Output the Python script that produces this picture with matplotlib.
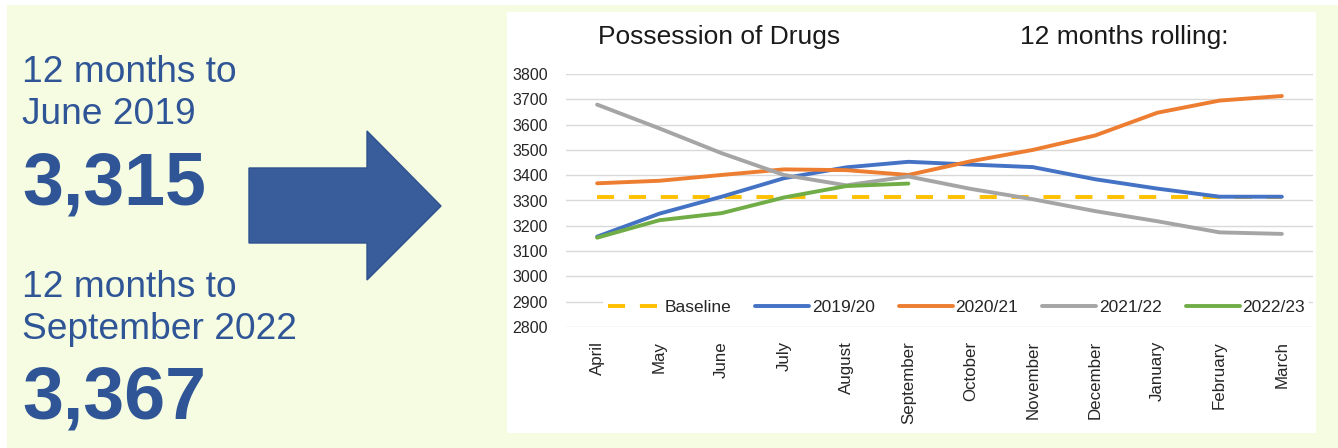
import matplotlib
matplotlib.use("Agg")
import matplotlib.pyplot as plt
from matplotlib.patches import Rectangle, Polygon

plt.rcParams['font.family'] = ['Liberation Sans', 'DejaVu Sans']

# ---- data ----
months = ["April", "May", "June", "July", "August", "September", "October",
          "November", "December", "January", "February", "March"]
baseline = [3315] * 12
fy_2019_20 = [3157, 3248, 3315, 3388, 3431, 3453, 3442, 3432, 3384, 3347, 3315, 3315]
fy_2020_21 = [3368, 3378, 3401, 3423, 3420, 3401, 3455, 3500, 3557, 3647, 3695, 3713]
fy_2021_22 = [3679, 3585, 3487, 3401, 3360, 3395, 3346, 3305, 3258, 3218, 3174, 3168]
fy_2022_23 = [3153, 3222, 3250, 3312, 3357, 3367]
series_labels = ["Baseline", "2019/20", "2020/21", "2021/22", "2022/23"]
yticks = list(range(2800, 3900, 100))

headline_old_lines = ["12 months to", "June 2019"]
headline_old_value = "3,315"
headline_new_lines = ["12 months to", "September 2022"]
headline_new_value = "3,367"
chart_title = "Possession of Drugs"
chart_subtitle = "12 months rolling:"

W, H = 1338, 448
fig = plt.figure(figsize=(W / 100, H / 100), dpi=100, facecolor="white")

# background layer in pixel coords
bg = fig.add_axes([0, 0, 1, 1], zorder=0)
bg.set_xlim(0, W)
bg.set_ylim(H, 0)
bg.axis("off")
bg.add_patch(Rectangle((7, 5), W - 7, H - 5, facecolor="#F5FCE1", edgecolor="none"))
panel = Rectangle((507, 12), 1316 - 507, 433 - 12, facecolor="white", edgecolor="none")
bg.add_patch(panel)

text_col = "#2F5597"
for i, line in enumerate(headline_old_lines):
    bg.text(22, 82 + 42 * i, line, fontsize=26.7, color=text_col, va="baseline", ha="left")
bg.text(22, 204, headline_old_value, fontsize=53, color=text_col, fontweight="bold",
        va="baseline", ha="left")
for i, line in enumerate(headline_new_lines):
    bg.text(22, 297 + 42 * i, line, fontsize=26.7, color=text_col, va="baseline", ha="left")
bg.text(22, 418, headline_new_value, fontsize=53, color=text_col, fontweight="bold",
        va="baseline", ha="left")

arrow = Polygon([(249, 168), (367, 168), (367, 131), (441, 206), (367, 280),
                 (367, 243), (249, 243)], closed=True, facecolor="#385D9A",
                edgecolor="#2F528F", linewidth=1)
bg.add_patch(arrow)

bg.text(598, 44, chart_title, fontsize=19, color="#1a1a1a", va="baseline", ha="left")
bg.text(1020, 44, chart_subtitle, fontsize=19, color="#1a1a1a", va="baseline", ha="left")

# ---- main chart ----
left, right, top, bottom = 566, 1313, 74, 327
ax = fig.add_axes([left / W, 1 - bottom / H, (right - left) / W, (bottom - top) / H], zorder=1)
ax.patch.set_alpha(0)
x = list(range(len(months)))

lw = 2.8
ax.plot(x, baseline, color="#FFC000", lw=lw, ls=(0, (4.4, 3.8)), label=series_labels[0], zorder=2)
ax.plot(x, fy_2019_20, color="#4472C4", lw=lw, label=series_labels[1], zorder=3,
        solid_capstyle="round")
ax.plot(x, fy_2020_21, color="#ED7D31", lw=lw, label=series_labels[2], zorder=3,
        solid_capstyle="round")
ax.plot(x, fy_2021_22, color="#A5A5A5", lw=lw, label=series_labels[3], zorder=3,
        solid_capstyle="round")
ax.plot(x[:len(fy_2022_23)], fy_2022_23, color="#70AD47", lw=lw, label=series_labels[4],
        zorder=3, solid_capstyle="round")

ax.set_xlim(-0.5, len(months) - 0.5)
ax.set_ylim(2800, 3800)
ax.set_yticks(yticks)
ax.set_yticklabels([str(v) for v in yticks], fontsize=11.5, color="#262626")
ax.set_xticks(x)
ax.set_xticklabels(months, rotation=90, fontsize=12.2, color="#262626", va="top", ha="center")
ax.tick_params(axis="both", length=0)
ax.tick_params(axis="y", pad=13)
ax.tick_params(axis="x", pad=10)
for s in ax.spines.values():
    s.set_visible(False)
ax.grid(axis="y", color="#D9D9D9", lw=1)
ax.set_axisbelow(True)

leg = ax.legend(loc="center left", bbox_to_anchor=(0.05, 0.076), ncol=5, frameon=True,
                fontsize=12.5, handlelength=3.1, handletextpad=0.17, columnspacing=1.38,
                borderpad=0.25, borderaxespad=0)
leg.get_frame().set_facecolor("white")
leg.get_frame().set_edgecolor("none")
leg.get_frame().set_alpha(1)
for t in leg.get_texts():
    t.set_color("#262626")

fig.savefig("out.png", dpi=100, facecolor=fig.get_facecolor())
